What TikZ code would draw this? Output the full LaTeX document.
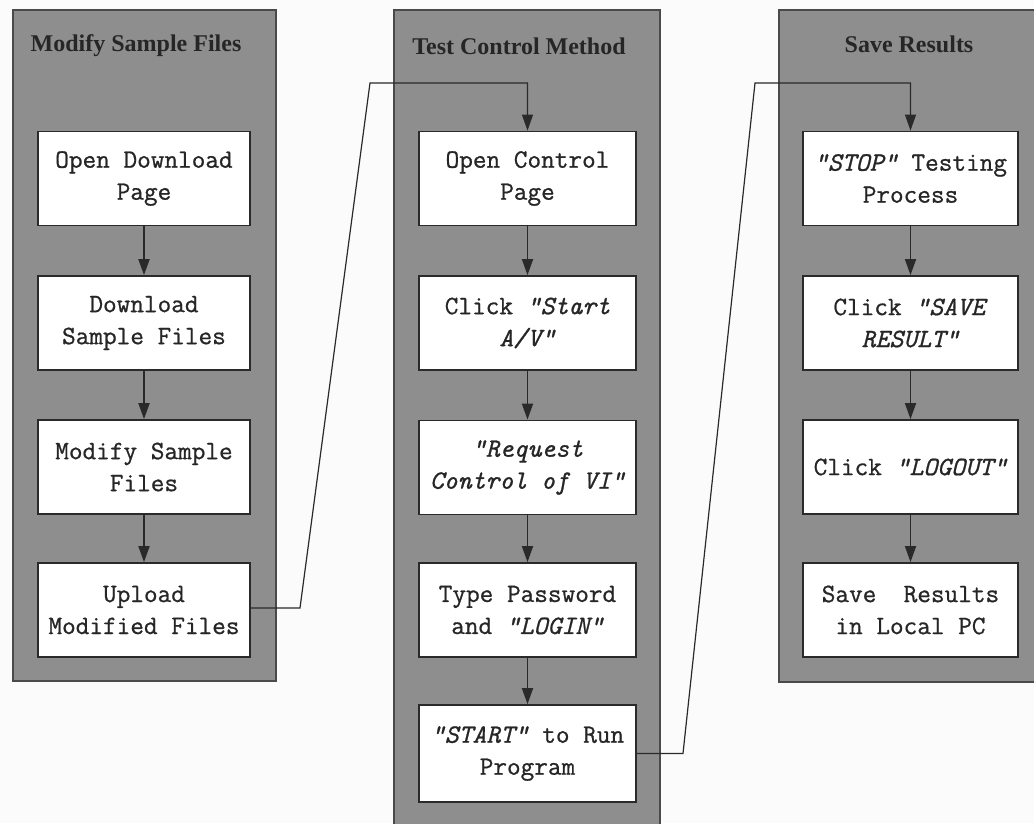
\documentclass[tikz,border=0pt]{standalone}
\usepackage{fontspec}
\setmainfont{Liberation Serif}
\setmonofont{Latin Modern Mono}[FakeBold=0.8]
\usetikzlibrary{arrows.meta}
\definecolor{panelgrey}{HTML}{8E8E8E}
\definecolor{paneledge}{HTML}{4A4A4A}
\definecolor{boxedge}{HTML}{2A2A2A}
\definecolor{txt}{HTML}{262626}
\definecolor{bg}{HTML}{FBFBFB}
\tikzset{
  panel/.style={fill=panelgrey, draw=paneledge, line width=1.5pt},
  title/.style={font=\bfseries\fontsize{24}{28}\selectfont, text=black!85, inner sep=0pt},
  stepbox/.style={draw=boxedge, fill=white, line width=1.8pt, inner sep=0pt,
    align=center, text=txt, font=\ttfamily\fontsize{26.5}{32}\selectfont},
  boxA/.style={stepbox, minimum width=212pt, minimum height=94pt},
  boxB/.style={stepbox, minimum width=217pt, minimum height=94pt},
  boxC/.style={stepbox, minimum width=215pt, minimum height=94pt},
  arr/.style={draw=boxedge, line width=1.8pt, -{Triangle[width=11pt,length=16pt]}},
  link/.style={draw=boxedge, line width=1.2pt, -{Triangle[width=11pt,length=16pt]}},
}
\begin{document}
\begin{tikzpicture}[x=1pt,y=-1pt]
\clip (0,0) rectangle (1034,823);
\fill[bg] (0,0) rectangle (1034,823);
% panels
\draw[panel] (13,10) rectangle (276,681);
\draw[panel] (394,10) rectangle (660,840);
\draw[panel] (779,10) rectangle (1045,682);
% titles
\node[title] (t1) at (136,46) {Modify Sample Files};
\node[title] (t2) at (519,46) {Test Control Method};
\node[title] (t3) at (909,44) {Save Results};
% column 1
\node[boxA] (a1) at (144,178.5) {Open Download\\Page};
\node[boxA] (a2) at (144,323) {Download\\Sample Files};
\node[boxA] (a3) at (144,467) {Modify Sample\\Files};
\node[boxA] (a4) at (144,610) {Upload\\Modified Files};
% column 2
\node[boxB] (b1) at (527.5,178.5) {Open Control\\Page};
\node[boxB] (b2) at (527.5,323) {Click \textit{“Start}\\\textit{A/V”}};
\node[boxB] (b3) at (527.5,467.5) {\textit{“Request}\\\textit{Control of VI”}};
\node[boxB] (b4) at (527.5,610) {Type Password\\and \textit{“LOGIN”}};
\node[boxB, minimum height=97pt] (b5) at (527.5,753.5) {\textit{“START”} to Run\\Program};
% column 3
\node[boxC] (c1) at (910.5,178.5) {\textit{“STOP”} Testing\\Process};
\node[boxC] (c2) at (910.5,323) {Click \textit{“SAVE}\\\textit{RESULT”}};
\node[boxC] (c3) at (910.5,467) {Click \textit{“LOGOUT”}};
\node[boxC] (c4) at (910.5,610) {Save~ Results\\in Local PC};
% arrows
\draw[arr] (a1) -- (a2);
\draw[arr] (a2) -- (a3);
\draw[arr] (a3) -- (a4);
\draw[arr] (b1) -- (b2);
\draw[arr] (b2) -- (b3);
\draw[arr] (b3) -- (b4);
\draw[arr] (b4) -- (b5);
\draw[arr] (c1) -- (c2);
\draw[arr] (c2) -- (c3);
\draw[arr] (c3) -- (c4);
% links between panels
\coordinate (k1) at (300,608);
\coordinate (k2) at (370,83);
\coordinate (k3) at (683,753.5);
\coordinate (k4) at (755,83);
\draw[link] (a4.east |- k1) -- (k1) -- (k2) -| (b1.north);
\draw[link] (b5.east) -- (k3) -- (k4) -| (c1.north);
\end{tikzpicture}
\end{document}
